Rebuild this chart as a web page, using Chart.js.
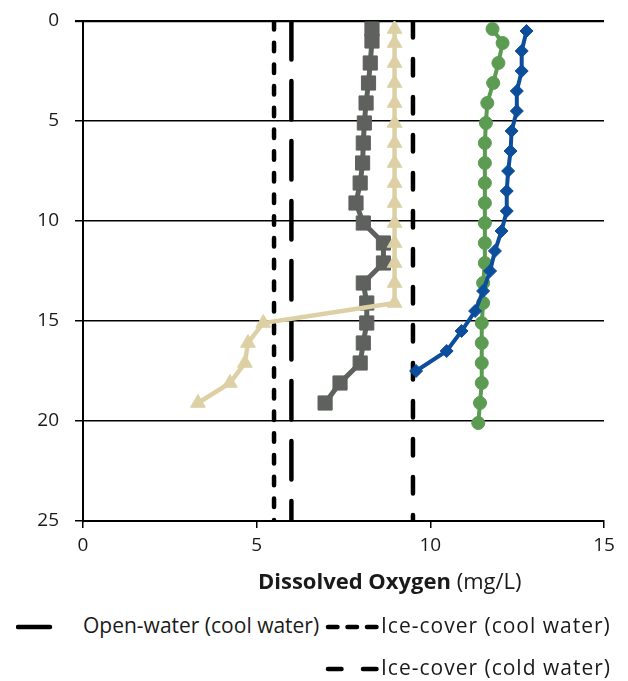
<!DOCTYPE html>
<html>
<head>
<meta charset="utf-8">
<script src="https://cdn.jsdelivr.net/npm/chart.js@4.4.0/dist/chart.umd.min.js"></script>
<style>
body { margin: 0; background: #fff; font-family: "Open Sans", sans-serif; }
#wrap { position: relative; width: 628px; height: 681px; }
#xtitle { position: absolute; left: 258px; top: 569px; font-size: 22px; line-height: 22px; color: #1a1a1a; white-space: nowrap; }
.legtext { position: absolute; font-size: 21px; line-height: 21px; color: #1a1a1a; white-space: nowrap; }
.legtext.ice { letter-spacing: 1px; }
.legline { position: absolute; }
</style>
</head>
<body>
<div id="wrap">
  <canvas id="myChart" width="628" height="600"></canvas>
  <div id="xtitle"><b>Dissolved Oxygen</b> (mg/L)</div>
  <svg class="legline" style="left:16px;top:621px" width="38" height="12"><line x1="2" y1="6" x2="34" y2="6" stroke="#000" stroke-width="4.5" stroke-linecap="round"/></svg>
  <div class="legtext" style="left:83px;top:615px">Open-water (cool water)</div>
  <svg class="legline" style="left:324px;top:621px" width="58" height="12"><line x1="4" y1="6" x2="54" y2="6" stroke="#000" stroke-width="4.5" stroke-linecap="round" stroke-dasharray="9.5 10"/></svg>
  <div class="legtext ice" style="left:381px;top:615px">Ice-cover (cool water)</div>
  <svg class="legline" style="left:324px;top:663px" width="58" height="12"><line x1="4" y1="6" x2="54" y2="6" stroke="#000" stroke-width="4.5" stroke-linecap="round" stroke-dasharray="13.5 21.5"/></svg>
  <div class="legtext ice" style="left:381px;top:657px">Ice-cover (cold water)</div>
</div>
<script>
// depth (m) and dissolved oxygen (mg/L) for each profile
var blueDepth = [0.5, 1.5, 2.5, 3.5, 4.5, 5.5, 6.5, 7.5, 8.5, 9.5, 10.5, 11.5, 12.5, 13.5, 14.5, 15.5, 16.5, 17.5];
var blueDO = [12.77, 12.63, 12.63, 12.49, 12.49, 12.34, 12.31, 12.24, 12.2, 12.2, 12.05, 11.86, 11.72, 11.52, 11.29, 10.9, 10.47, 9.59];

var greenDepth = [0.4, 1.1, 2.1, 3.1, 4.1, 5.1, 6.1, 7.1, 8.1, 9.1, 10.1, 11.1, 12.1, 13.1, 14.1, 15.1, 16.1, 17.1, 18.1, 19.1, 20.1];
var greenDO = [11.79, 12.08, 11.96, 11.81, 11.64, 11.6, 11.57, 11.57, 11.57, 11.57, 11.57, 11.57, 11.57, 11.52, 11.52, 11.48, 11.48, 11.48, 11.48, 11.43, 11.38];

var grayDepth = [0.4, 1.0, 2.1, 3.1, 4.1, 5.1, 6.1, 7.1, 8.1, 9.1, 10.1, 11.1, 12.1, 13.1, 14.1, 15.1, 16.1, 17.1, 18.1, 19.1];
var grayDO = [8.32, 8.32, 8.27, 8.22, 8.15, 8.1, 8.07, 8.05, 7.98, 7.86, 8.07, 8.65, 8.65, 8.07, 8.17, 8.17, 8.07, 7.98, 7.4, 6.97];

var beigeDepth = [0.4, 1.1, 2.1, 3.1, 4.1, 5.1, 6.1, 7.1, 8.1, 9.1, 10.1, 11.1, 12.1, 13.1, 14.1, 15.1, 16.1, 17.1, 18.1, 19.1];
var beigeDO = [8.97, 8.97, 8.97, 8.97, 8.97, 8.97, 8.97, 8.97, 8.97, 8.97, 8.97, 8.97, 8.97, 8.97, 8.97, 5.19, 4.75, 4.66, 4.23, 3.31];

// criteria lines
var critNames = ['Open-water (cool water)', 'Ice-cover (cool water)', 'Ice-cover (cold water)'];
var critValues = [6, 5.5, 9.5];
var critDash = [[38.5, 21.5], [8.5, 13.2], [16.5, 21.5]];

var depthRange = [0, 25];
var xTicks = [0, 5, 10, 15];
var yTicks = [0, 5, 10, 15, 20, 25];

function pts(xs, ys) {
  return xs.map(function (v, i) { return { x: v, y: ys[i] }; });
}

function profile(xs, ys, color, style, radius, width) {
  return {
    data: pts(xs, ys),
    showLine: true,
    borderColor: color,
    backgroundColor: color,
    borderWidth: width,
    pointStyle: style,
    pointRadius: radius,
    pointBorderWidth: 1,
    pointBorderColor: color,
    pointBackgroundColor: color
  };
}

var datasets = [
  profile(blueDO, blueDepth, '#0c4e9b', 'rectRot', 6.5, 4),
  profile(beigeDO, beigeDepth, '#ddd0a5', 'triangle', 8.5, 4.5),
  profile(grayDO, grayDepth, '#5f615e', 'rect', 10, 5),
  profile(greenDO, greenDepth, '#5c9b52', 'circle', 6.5, 4)
];

critValues.forEach(function (v, i) {
  datasets.push({
    label: critNames[i],
    data: pts([v, v], depthRange),
    showLine: true,
    borderColor: '#000',
    borderWidth: 4.5,
    borderDash: critDash[i],
    borderCapStyle: 'round',
    pointRadius: 0
  });
});

new Chart('myChart', {
  type: 'scatter',
  data: { datasets: datasets },
  options: {
    responsive: false,
    animation: false,
    layout: { autoPadding: false, padding: { top: 21, right: 24, left: 0, bottom: 0 } },
    plugins: { legend: { display: false }, tooltip: { enabled: false } },
    scales: {
      x: {
        type: 'linear',
        min: 0,
        max: 15,
        afterBuildTicks: function (s) { s.ticks = xTicks.map(function (v) { return { value: v }; }); },
        afterFit: function (s) { s.height = 79; s.paddingLeft = 0; s.paddingRight = 0; },
        grid: { drawOnChartArea: false, color: '#000', lineWidth: 1.5, tickLength: 7 },
        border: { color: '#000', width: 2 },
        ticks: { color: '#1a1a1a', font: { family: 'Open Sans', size: 19 }, padding: 6 }
      },
      y: {
        type: 'linear',
        reverse: true,
        min: 0,
        max: 25,
        afterBuildTicks: function (s) { s.ticks = yTicks.map(function (v) { return { value: v }; }); },
        afterFit: function (s) { s.width = 83; s.paddingTop = 0; s.paddingBottom = 0; },
        grid: { color: '#000', lineWidth: function (c) { return c.tick && c.tick.value === 0 ? 2.2 : 1.5; }, tickLength: 8 },
        border: { color: '#000', width: 2 },
        ticks: { color: '#1a1a1a', font: { family: 'Open Sans', size: 19 }, padding: 16 }
      }
    }
  }
});
</script>
</body>
</html>
